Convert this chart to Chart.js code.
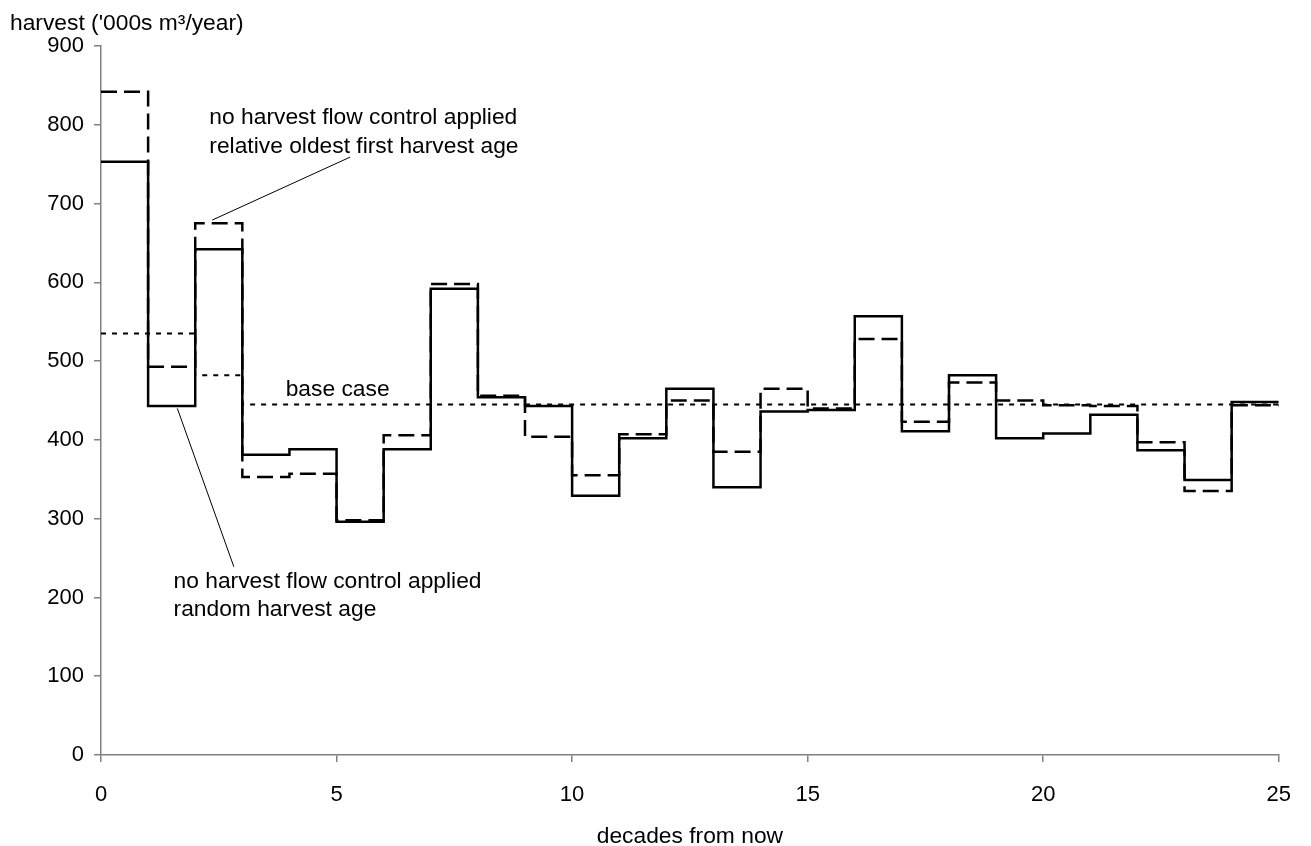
<!DOCTYPE html>
<html>
<head>
<meta charset="utf-8">
<script src="https://cdn.jsdelivr.net/npm/chart.js@4/dist/chart.umd.min.js"></script>
<style>
  html, body { margin: 0; padding: 0; background: #fff; }
  canvas { display: block; }
</style>
</head>
<body>
<canvas id="harvestChart" width="1311" height="846"></canvas>
<script>
// decade starts 0..24, each step lasts one decade (last one ends at 25)
const decades = [0, 1, 2, 3, 4, 5, 6, 7, 8, 9, 10, 11, 12, 13, 14, 15, 16, 17, 18, 19, 20, 21, 22, 23, 24];
const randomAge = [753, 443, 642, 381, 388, 296, 388, 592, 454, 443, 329, 402, 465, 340, 436, 438, 557, 411, 482, 402, 408, 432, 387, 349, 448];
const oldestFirst = [842, 493, 675, 353, 357, 298, 406, 598, 456, 404, 355, 407, 450, 385, 465, 440, 528, 423, 473, 450, 444, 443, 397, 335, 444];
const baseCase = [535, 535, 482, 445, 445, 445, 445, 445, 445, 445, 445, 445, 445, 445, 445, 445, 445, 445, 445, 445, 445, 445, 445, 445, 445];
const xTicks = [0, 5, 10, 15, 20, 25];
const yTicks = [0, 100, 200, 300, 400, 500, 600, 700, 800, 900];

const FONT = "'Liberation Sans', Arial, sans-serif";

// step points: value held from decade i to i+1
function steps(values) {
  const pts = decades.map((d, i) => ({ x: d, y: values[i] }));
  pts.push({ x: decades[decades.length - 1] + 1, y: values[values.length - 1] });
  return pts;
}

// labels and leader lines, placed in data units
const notes = [
  { lines: ['no harvest flow control applied', 'relative oldest first harvest age'], x: 2.3, y: 801, gap: 29,
    leader: [5.29, 759, 2.36, 679] },
  { lines: ['no harvest flow control applied', 'random harvest age'], x: 1.54, y: 212, gap: 28,
    leader: [1.62, 440, 2.82, 239] },
  { lines: ['base case'], x: 3.92, y: 456, gap: 0 }
];

const textPlugin = {
  id: 'textPlugin',
  afterDraw(chart) {
    const { ctx, scales: { x, y } } = chart;
    ctx.save();
    ctx.fillStyle = '#000';
    ctx.strokeStyle = '#000';
    ctx.font = '22.8px ' + FONT;
    ctx.textBaseline = 'alphabetic';
    ctx.textAlign = 'left';
    ctx.fillText("harvest ('000s m\u00b3/year)", 10, 30);
    ctx.textAlign = 'center';
    ctx.fillText('decades from now', (chart.chartArea.left + chart.chartArea.right) / 2, 843);
    ctx.textAlign = 'left';
    notes.forEach(n => {
      const px = x.getPixelForValue(n.x);
      const py = y.getPixelForValue(n.y);
      n.lines.forEach((t, i) => ctx.fillText(t, px, py + i * n.gap));
      if (n.leader) {
        ctx.lineWidth = 1;
        ctx.beginPath();
        ctx.moveTo(x.getPixelForValue(n.leader[0]), y.getPixelForValue(n.leader[1]));
        ctx.lineTo(x.getPixelForValue(n.leader[2]), y.getPixelForValue(n.leader[3]));
        ctx.stroke();
      }
    });
    ctx.restore();
  }
};

new Chart(document.getElementById('harvestChart'), {
  type: 'line',
  data: {
    datasets: [
      {
        label: 'base case',
        data: steps(baseCase),
        borderColor: '#000',
        borderWidth: 2,
        borderDash: [5, 6],
        stepped: 'before',
        pointRadius: 0,
        fill: false
      },
      {
        label: 'relative oldest first harvest age',
        data: steps(oldestFirst),
        borderColor: '#000',
        borderWidth: 2.5,
        borderDash: [16, 7],
        stepped: 'before',
        pointRadius: 0,
        fill: false
      },
      {
        label: 'random harvest age',
        data: steps(randomAge),
        borderColor: '#000',
        borderWidth: 2.5,
        stepped: 'before',
        pointRadius: 0,
        fill: false
      }
    ]
  },
  options: {
    responsive: false,
    animation: false,
    devicePixelRatio: 1,
    layout: { padding: { top: 46, right: 24, left: 0, bottom: 0 } },
    plugins: {
      legend: { display: false },
      tooltip: { enabled: false }
    },
    scales: {
      x: {
        type: 'linear',
        min: 0,
        max: 25,
        afterFit(scale) { scale.height = 91; },
        afterBuildTicks(scale) { scale.ticks = xTicks.map(v => ({ value: v })); },
        grid: { drawOnChartArea: false, drawTicks: true, tickLength: 7, color: '#808080', lineWidth: 1.5 },
        border: { display: true, color: '#808080', width: 1.5 },
        ticks: { color: '#000', font: { family: FONT, size: 22 }, padding: 20, maxRotation: 0 }
      },
      y: {
        min: 0,
        max: 900,
        afterFit(scale) { scale.width = 101; },
        afterBuildTicks(scale) { scale.ticks = yTicks.map(v => ({ value: v })); },
        grid: { drawOnChartArea: false, drawTicks: true, tickLength: 7, color: '#808080', lineWidth: 1.5 },
        border: { display: true, color: '#808080', width: 1.5 },
        ticks: { color: '#000', font: { family: FONT, size: 22 }, padding: 10 }
      }
    }
  },
  plugins: [textPlugin]
});
</script>
</body>
</html>
